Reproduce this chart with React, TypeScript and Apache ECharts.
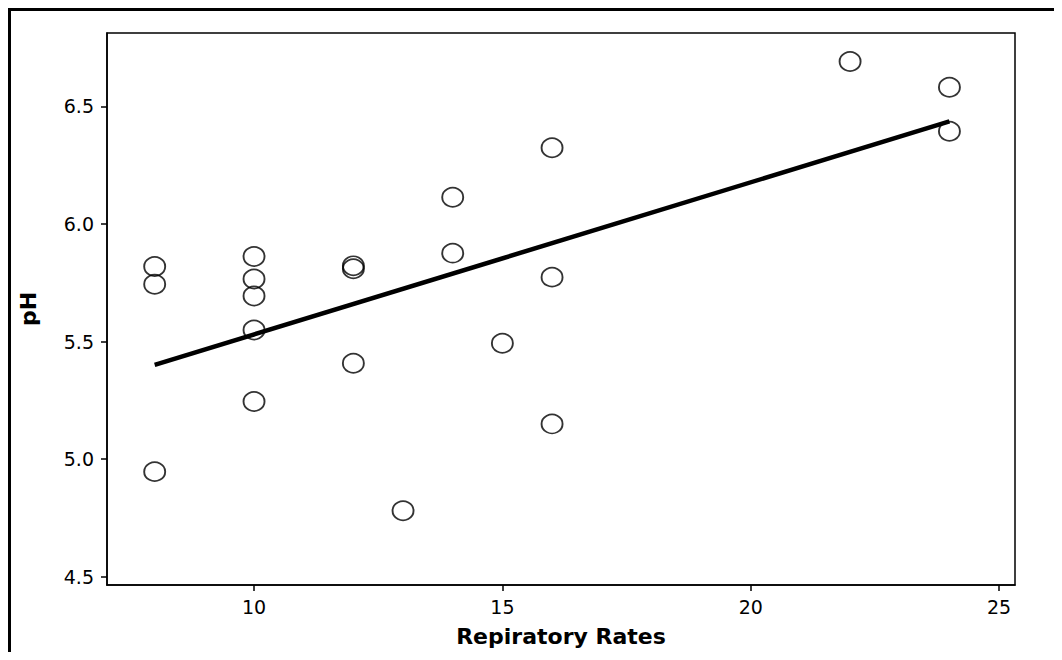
import React, { useEffect, useRef } from "react";
import * as echarts from "echarts";

const respRates = [8, 8, 8, 10, 10, 10, 10, 10, 12, 12, 12, 13, 14, 14, 15, 16, 16, 16, 22, 24, 24];
const phValues = [5.819, 5.744, 4.947, 5.862, 5.766, 5.694, 5.549, 5.245, 5.822, 5.810, 5.408, 4.781, 6.114, 5.876, 5.493, 6.324, 5.774, 5.150, 6.691, 6.581, 6.394];
const fitX = [8, 24];
const fitY = [5.401, 6.436];
const xTicks = [10, 15, 20, 25];
const yTicks = [4.5, 5.0, 5.5, 6.0, 6.5];

export default function App() {
  const ref = useRef<HTMLDivElement>(null);
  useEffect(() => {
    if (!ref.current) return;
    const chart = echarts.init(ref.current, null, { renderer: "svg" });
    const font = "'DejaVu Sans', Verdana, sans-serif";
    chart.setOption({
      animation: false,
      backgroundColor: "#ffffff",
      grid: {
        show: true,
        left: 96,
        top: 22,
        right: 47,
        bottom: 67,
        outerBoundsMode: "none",
        containLabel: false,
        borderColor: "#000",
        borderWidth: 1.5,
        backgroundColor: "transparent",
      },
      xAxis: {
        type: "value",
        min: 7.04,
        max: 25.32,
        name: "Repiratory Rates",
        nameLocation: "middle",
        nameGap: 40,
        nameTextStyle: { fontFamily: font, fontWeight: "bold", fontSize: 22, color: "#000" },
        axisLine: { show: true, onZero: false, lineStyle: { color: "#000", width: 1.5 } },
        axisTick: { show: true, length: 6, customValues: xTicks, lineStyle: { color: "#000", width: 1.5 } },
        axisLabel: { customValues: xTicks, fontFamily: font, fontSize: 19, color: "#000", margin: 12 },
        splitLine: { show: false },
      },
      yAxis: {
        type: "value",
        min: 4.465,
        max: 6.812,
        name: "pH",
        nameLocation: "middle",
        nameGap: 68,
        nameTextStyle: { fontFamily: font, fontWeight: "bold", fontSize: 22, color: "#000" },
        axisLine: { show: true, onZero: false, lineStyle: { color: "#000", width: 1.5 } },
        axisTick: { show: true, length: 6, customValues: yTicks, lineStyle: { color: "#000", width: 1.5 } },
        axisLabel: {
          customValues: yTicks,
          formatter: (v: number) => v.toFixed(1),
          fontFamily: font,
          fontSize: 19,
          color: "#000",
          margin: 13,
        },
        splitLine: { show: false },
      },
      series: [
        {
          type: "line",
          data: fitX.map((x, i) => [x, fitY[i]]),
          showSymbol: false,
          symbol: "none",
          lineStyle: { color: "#000", width: 4.5 },
          z: 2,
        },
        {
          type: "scatter",
          data: respRates.map((x, i) => [x, phValues[i]]),
          symbol: "circle",
          symbolSize: [21, 19],
          itemStyle: { color: "transparent", borderColor: "#000", borderWidth: 1.8 },
          z: 3,
        },
      ],
    });
    return () => chart.dispose();
  }, []);
  return (
    <div
      style={{
        width: 1054,
        height: 644,
        boxSizing: "border-box",
        borderTop: "3px solid #000",
        borderLeft: "3px solid #000",
        background: "#fff",
      }}
    >
      <div ref={ref} style={{ width: 1051, height: 641 }} />
    </div>
  );
}
